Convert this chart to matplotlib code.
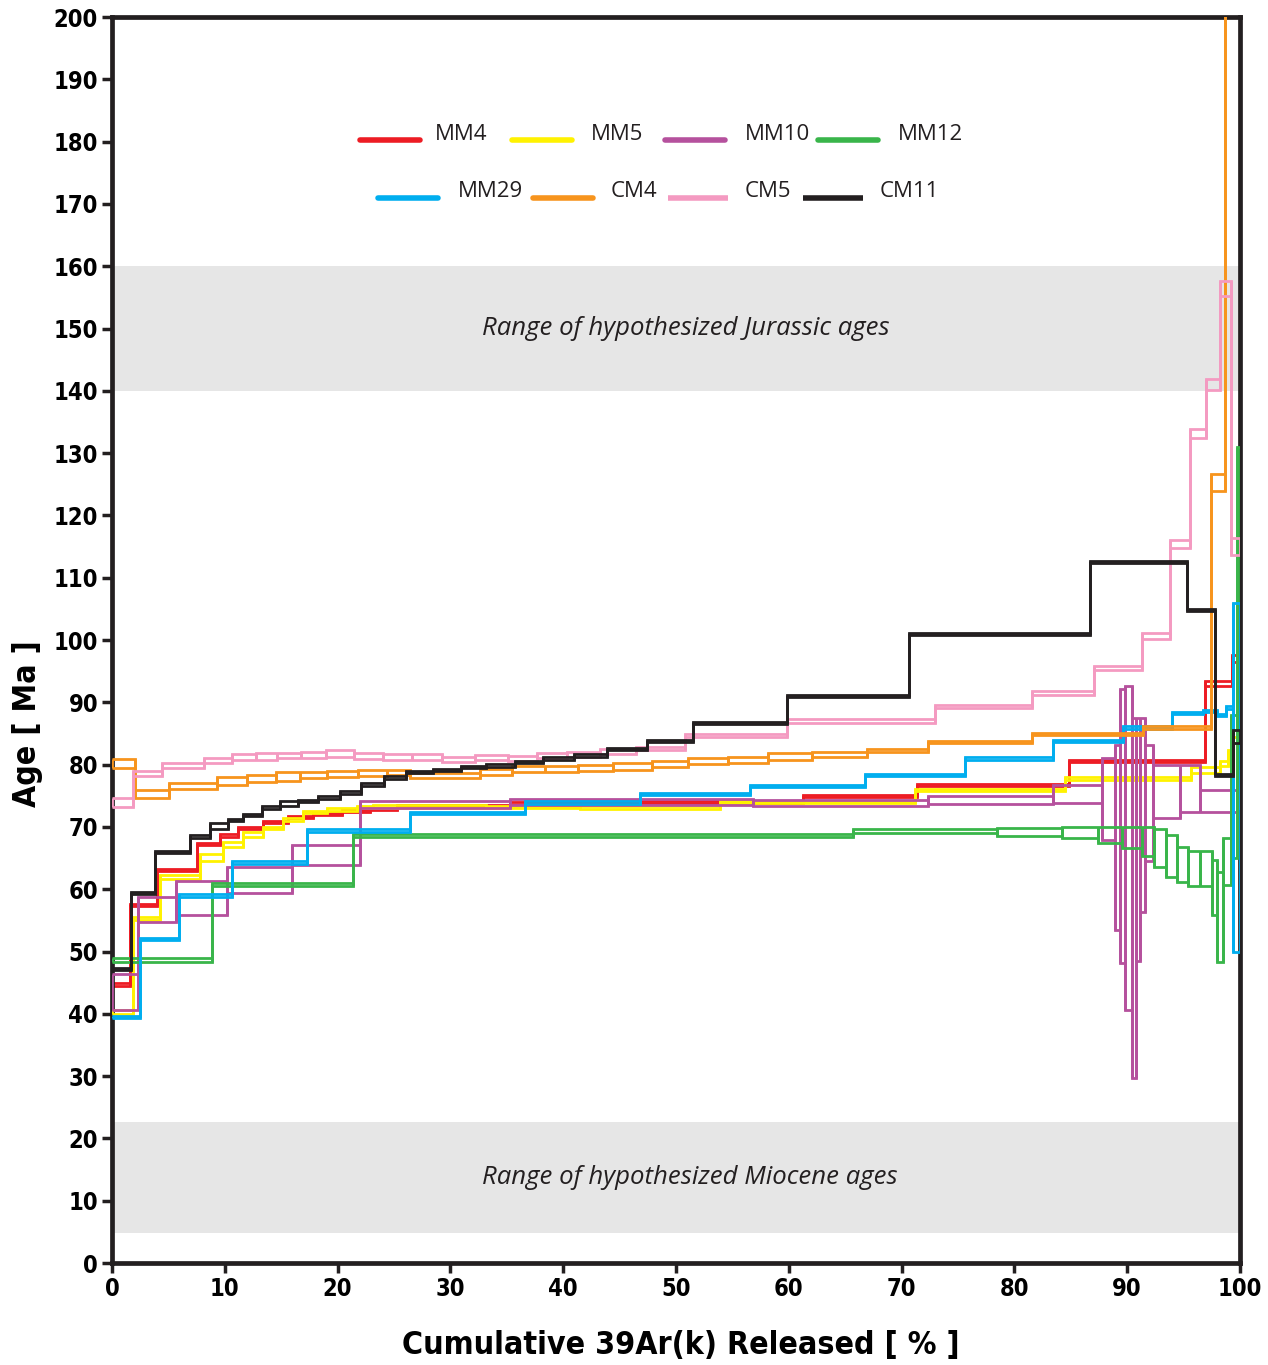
import numpy as np
import matplotlib.pyplot as plt

# step-heating spectra: cumulative 39Ar edges [%], apparent age [Ma], 1-sigma [Ma]
mm4_edges = [0, 1.6, 4.0, 7.5, 9.6, 11.2, 13.4, 15.6, 17.8, 20.4, 22.9, 25.3, 35.3, 46.0,
             57.4, 61.3, 71.4, 84.8, 96.9, 99.3, 100]
mm4_age = [44.7, 57.5, 63.1, 67.3, 68.6, 69.8, 70.8, 71.6, 72.1, 72.6, 72.9, 73.4, 73.8,
           74.0, 74.0, 75.0, 76.7, 80.6, 93.1, 97.0]
mm4_err = [0.2] * 18 + [0.4, 0.6]

mm5_edges = [0, 1.9, 4.3, 7.8, 9.8, 11.6, 13.4, 15.2, 16.9, 19.1, 21.7, 23.1, 33.2, 41.5,
             53.9, 71.2, 84.5, 95.7, 98.2, 98.9, 99.4, 100]
mm5_age = [40.3, 55.3, 62.0, 65.1, 67.2, 68.8, 69.8, 71.2, 72.4, 72.8, 73.2, 73.3, 73.2,
           73.1, 74.0, 75.9, 77.8, 79.1, 80.2, 81.9, 84.0]
mm5_err = [0.3, 0.3, 0.3, 0.5, 0.4, 0.4, 0.2, 0.2, 0.2, 0.2, 0.2, 0.2, 0.2, 0.2, 0.2,
           0.2, 0.2, 0.5, 0.4, 0.4, 0.5]

mm10_edges = [0, 2.3, 5.7, 10.2, 16.0, 22.0, 35.3, 56.8, 72.3, 83.4, 87.8, 88.9, 89.4,
              89.8, 90.4, 90.8, 91.1, 91.6, 92.3, 94.7, 96.5, 99.7, 100]
mm10_age = [43.5, 56.7, 58.6, 61.5, 65.5, 73.6, 74.0, 73.9, 74.3, 75.3, 74.5, 68.3, 70.2,
            66.6, 58.6, 68.0, 71.9, 73.8, 75.7, 76.2, 74.2, 76.0]
mm10_err = [2.9, 2.0, 2.7, 2.1, 1.6, 0.6, 0.5, 0.5, 0.6, 1.5, 6.6, 14.9, 22.0, 26.0, 28.9,
            19.5, 15.6, 9.3, 4.3, 3.8, 1.8, 3.0]

mm12_edges = [0, 8.9, 21.4, 65.7, 78.5, 84.2, 87.4, 89.5, 91.3, 92.4, 93.4, 94.4, 95.4,
              96.5, 97.5, 98.0, 98.5, 99.2, 99.7, 100]
mm12_age = [48.6, 60.8, 68.6, 69.3, 69.2, 69.1, 68.7, 68.3, 67.7, 66.6, 65.3, 64.0, 63.3,
            63.3, 60.3, 55.5, 64.5, 76.5, 118.5]
mm12_err = [0.35, 0.25, 0.2, 0.35, 0.6, 0.9, 1.3, 1.7, 2.3, 3.0, 3.4, 2.8, 2.8, 2.8, 4.4,
            7.2, 3.8, 11.5, 12.5]

mm29_edges = [0, 2.5, 5.9, 10.6, 17.3, 26.4, 36.6, 46.8, 56.6, 66.8, 75.6, 83.4, 89.6,
              94.0, 96.7, 98.0, 98.8, 99.4, 100]
mm29_age = [39.5, 52.0, 59.0, 64.3, 69.4, 72.2, 73.9, 75.3, 76.6, 78.3, 81.0, 83.8, 86.0,
            88.3, 88.6, 88.0, 89.2, 78.0]
mm29_err = [0.2] * 17 + [28.0]

cm4_edges = [0, 2.0, 5.1, 9.3, 12.0, 14.5, 16.7, 19.1, 21.8, 24.4, 26.4, 32.6, 35.5, 38.4,
             41.3, 44.4, 47.9, 51.1, 54.6, 58.2, 62.1, 66.9, 72.3, 81.6, 91.4, 97.4, 98.7, 100]
cm4_age = [80.2, 75.3, 76.6, 77.4, 77.8, 78.1, 78.3, 78.5, 78.7, 78.8, 78.3, 78.8, 79.3,
           79.3, 79.5, 79.7, 80.1, 80.6, 80.8, 81.3, 81.6, 82.3, 83.6, 84.9, 86.0, 125.3, 260.0]
cm4_err = [0.7, 0.6, 0.5, 0.6, 0.6, 0.7, 0.5, 0.5, 0.5, 0.4, 0.4, 0.5, 0.5, 0.5, 0.5, 0.5,
           0.5, 0.5, 0.5, 0.5, 0.4, 0.2, 0.2, 0.2, 0.2, 1.3, 5.0]

cm5_edges = [0, 1.9, 4.4, 8.2, 10.6, 12.8, 14.6, 16.8, 19.0, 21.5, 24.0, 26.6, 29.3, 32.2,
             35.1, 37.7, 40.3, 43.3, 46.5, 50.8, 59.8, 73.0, 81.6, 87.1, 91.3, 93.8, 95.6,
             97.0, 98.2, 99.2, 100]
cm5_age = [73.9, 78.6, 79.9, 80.7, 81.2, 81.3, 81.4, 81.6, 81.8, 81.4, 81.2, 81.2, 80.9,
           81.2, 81.0, 81.4, 81.7, 82.1, 82.6, 84.7, 87.0, 89.4, 91.5, 95.5, 100.6, 115.4,
           133.2, 141.0, 156.5, 115.0]
cm5_err = [0.7, 0.4, 0.4, 0.4, 0.5, 0.5, 0.4, 0.5, 0.5, 0.5, 0.5, 0.5, 0.4, 0.4, 0.4, 0.4,
           0.4, 0.4, 0.3, 0.25, 0.25, 0.25, 0.25, 0.3, 0.5, 0.6, 0.7, 0.9, 1.2, 1.4]

cm11_edges = [0, 1.7, 3.8, 6.9, 8.7, 10.3, 11.6, 13.3, 14.9, 16.5, 18.3, 20.2, 22.1, 24.1,
              26.1, 28.5, 30.9, 33.2, 35.7, 38.2, 41.0, 43.9, 47.4, 51.5, 59.8, 70.7, 86.7,
              95.3, 97.8, 99.4, 100]
cm11_age = [47.2, 59.4, 66.0, 68.5, 70.2, 71.1, 71.9, 73.1, 73.7, 74.2, 74.7, 75.5, 76.8,
            77.9, 78.8, 79.1, 79.6, 79.9, 80.4, 81.0, 81.5, 82.5, 83.8, 86.7, 91.0, 101.0,
            112.5, 104.8, 78.3, 84.5]
cm11_err = [0.2, 0.2, 0.2, 0.2, 0.45, 0.2, 0.2, 0.2, 0.4, 0.2, 0.2, 0.2, 0.2, 0.2, 0.2,
            0.2, 0.2, 0.2, 0.2, 0.2, 0.2, 0.2, 0.2, 0.2, 0.2, 0.2, 0.2, 0.2, 0.2, 1.0]

names = ["MM4", "MM5", "MM10", "MM12", "MM29", "CM4", "CM5", "CM11"]
colors = ["#ed1c24", "#fff200", "#b5519d", "#39b54a", "#00aeef", "#f7941d", "#f49ac1", "#231f20"]
spectra = [(mm4_edges, mm4_age, mm4_err), (mm5_edges, mm5_age, mm5_err),
           (mm10_edges, mm10_age, mm10_err), (mm12_edges, mm12_age, mm12_err),
           (mm29_edges, mm29_age, mm29_err), (cm4_edges, cm4_age, cm4_err),
           (cm5_edges, cm5_age, cm5_err), (cm11_edges, cm11_age, cm11_err)]
draw_order = [3, 2, 4, 1, 0, 5, 6, 7]

jurassic = (140, 160)
miocene = (4.8, 22.6)

plt.rcParams['font.family'] = ['DejaVu Sans']
plt.rcParams['font.stretch'] = 'condensed'

fig = plt.figure(figsize=(12.68, 13.65), dpi=100)
ax = fig.add_axes([0.0883, 0.0747, 0.8896, 0.9128])

# hypothesized age ranges
ax.axhspan(*jurassic, color="#e6e6e6", lw=0, zorder=0)
ax.axhspan(*miocene, color="#e6e6e6", lw=0, zorder=0)
band_font = dict(fontsize=18.5, style="italic", family=["Open Sans", "DejaVu Sans"],
                 stretch="normal", color="#231f20", ha="center", va="center")
ax.text(50.9, np.mean(jurassic), "Range of hypothesized Jurassic ages", **band_font)
ax.text(51.2, np.mean(miocene), "Range of hypothesized Miocene ages", **band_font)

# each step drawn as an open box (age +/- error), joined to its neighbours
lw = 2.0
for k in draw_order:
    edges, age, err = [np.asarray(a, dtype=float) for a in spectra[k]]
    top = age + err
    bot = age - err
    c = colors[k]
    ax.stairs(top, edges, baseline=None, color=c, lw=lw, zorder=2 + k)
    ax.stairs(bot, edges, baseline=None, color=c, lw=lw, zorder=2 + k)
    ax.vlines(edges[:-1], bot, top, color=c, lw=lw, zorder=2 + k)
    ax.vlines(edges[1:], bot, top, color=c, lw=lw, zorder=2 + k)

# legend in two rows
leg_rows = [0.906, 0.860]
leg_handle_x = [0.2199, 0.3546, 0.4902, 0.6259, 0.2358, 0.3732, 0.4929, 0.6126]
leg_label_x = [0.2863, 0.4246, 0.5612, 0.6968, 0.3067, 0.4424, 0.5612, 0.6809]
for i, (n, c) in enumerate(zip(names, colors)):
    yrow = leg_rows[i // 4]
    cap = "butt" if n in ("CM5", "CM11") else "round"
    ax.plot([leg_handle_x[i], leg_handle_x[i] + 0.053], [yrow - 0.005, yrow - 0.005],
            transform=ax.transAxes, color=c, lw=4, solid_capstyle=cap, clip_on=False)
    ax.text(leg_label_x[i], yrow, n, transform=ax.transAxes, ha="left", va="center",
            fontsize=16, family=["Open Sans", "DejaVu Sans"], stretch="normal",
            color="#231f20")

ax.set_xlim(0, 100)
ax.set_ylim(0, 200)
ax.set_xticks(np.arange(0, 101, 10))
ax.set_yticks(np.arange(0, 201, 10))
ax.tick_params(direction="out", length=7, width=2.5, labelsize=17, pad=3, color="#231f20")
for lab in ax.get_xticklabels() + ax.get_yticklabels():
    lab.set_fontweight("bold")
for s in ax.spines.values():
    s.set_linewidth(3.4)
    s.set_color("#231f20")

ax.set_xlabel("Cumulative 39Ar(k) Released [ % ]", fontsize=23, fontweight="bold")
ax.set_ylabel("Age [ Ma ]", fontsize=23, fontweight="bold", va="center")
ax.xaxis.set_label_coords(0.504, -0.054)
ax.yaxis.set_label_coords(-0.0745, 0.4326)

fig.savefig("out.png", dpi=100)
